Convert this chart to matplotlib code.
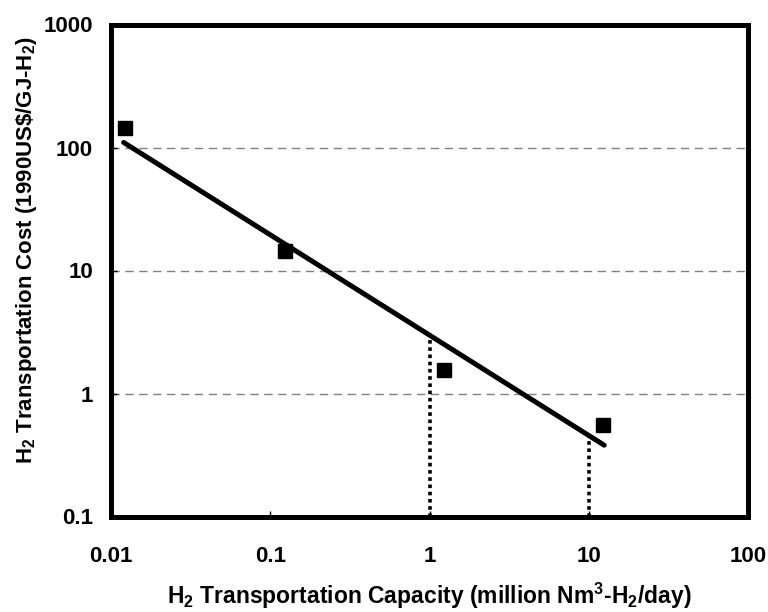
import matplotlib
matplotlib.use("Agg")
import matplotlib.pyplot as plt
from matplotlib.ticker import FixedLocator, FixedFormatter, NullLocator

plt.rcParams['font.family'] = ['Liberation Sans', 'DejaVu Sans']
plt.rcParams['mathtext.fontset'] = 'custom'
plt.rcParams['mathtext.rm'] = 'Liberation Sans:bold'
plt.rcParams['mathtext.bf'] = 'Liberation Sans:bold'

# Observed costs vs capacity
capacity = [0.0123, 0.123, 1.23, 12.3]
cost = [145, 14.5, 1.56, 0.55]

# Fitted trend line end points
fit_capacity = [0.012, 12.5]
fit_cost = [110, 0.38]

# Reference capacities marked by dotted drop lines
ref_capacity = [1, 10]
ref_cost = [2.7, 0.44]

x_ticks = [0.01, 0.1, 1, 10, 100]
x_labels = ['0.01', '0.1', '1', '10', '100']
y_ticks = [0.1, 1, 10, 100, 1000]
y_labels = ['0.1', '1', '10', '100', '1000']
grid_levels = [1, 10, 100]

W, H = 768, 612
L, R, T, B = 111, 748, 24.5, 516.5

fig = plt.figure(figsize=(W / 100, H / 100), dpi=100)
ax = fig.add_axes([L / W, 1 - B / H, (R - L) / W, (B - T) / H])
ax.set_xscale('log')
ax.set_yscale('log')
ax.set_xlim(0.01, 100)
ax.set_ylim(0.1, 1000)

for g in grid_levels:
    ax.axhline(g, color='#808080', lw=1.0, ls=(0, (6, 4)), zorder=1)

for xc, yc in zip(ref_capacity, ref_cost):
    ax.plot([xc, xc], [0.1, yc], color='black', lw=2.6, ls=(0, (1, 1)), zorder=2)

ax.plot(fit_capacity, fit_cost, color='black', lw=3.6, solid_capstyle='round', zorder=3)
ax.plot(capacity, cost, ls='none', marker='s', ms=10, color='black', zorder=4)

ax.xaxis.set_major_locator(FixedLocator(x_ticks))
ax.xaxis.set_major_formatter(FixedFormatter(x_labels))
ax.yaxis.set_major_locator(FixedLocator(y_ticks))
ax.yaxis.set_major_formatter(FixedFormatter(y_labels))
ax.xaxis.set_minor_locator(NullLocator())
ax.yaxis.set_minor_locator(NullLocator())
ax.tick_params(direction='in', length=4, width=1, labelsize=16)
ax.tick_params(axis='x', pad=21)
ax.tick_params(axis='y', pad=13)
for lab in ax.get_xticklabels() + ax.get_yticklabels():
    lab.set_fontweight('bold')

for s in ax.spines.values():
    s.set_linewidth(3.6)

ax.set_xlabel(r'H$_\mathbf{2}$ Transportation Capacity (million Nm$^\mathbf{3}$-H$_\mathbf{2}$/day)',
              fontsize=16.5, fontweight='bold')
ax.set_ylabel(r'H$_\mathbf{2}$ Transportation Cost (1990US\$/GJ-H$_\mathbf{2}$)',
              fontsize=16, fontweight='bold')
ax.xaxis.label.set_va('center')
ax.yaxis.label.set_va('center')
ax.xaxis.set_label_coords(0.5, (B - 596) / (B - T))
ax.yaxis.set_label_coords((27 - L) / (R - L), (B - 250) / (B - T))

fig.savefig('out.png', dpi=100)
